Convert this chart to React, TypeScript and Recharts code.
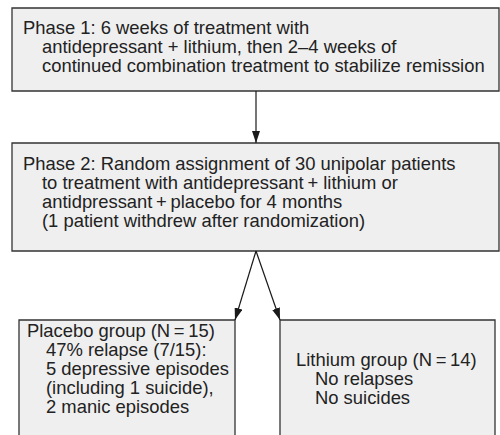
import React from 'react';
import { ComposedChart, XAxis, YAxis, ReferenceArea, ReferenceLine } from 'recharts';

// ---- content (text of each box) ----
const phase1Lines = [
  'Phase 1: 6 weeks of treatment with',
  'antidepressant + lithium, then 2\u20134 weeks of',
  'continued combination treatment to stabilize remission',
];
const phase2Lines = [
  'Phase 2: Random assignment of 30 unipolar patients',
  'to treatment with antidepressant\u2009+ lithium or',
  'antidpressant\u2009+\u2009placebo for 4 months',
  '(1 patient withdrew after randomization)',
];
const placeboLines = [
  'Placebo group (N\u2009=\u200915)',
  '47% relapse (7/15):',
  '5 depressive episodes',
  '(including 1 suicide),',
  '2 manic episodes',
];
const lithiumLines = [
  'Lithium group (N\u2009=\u200914)',
  'No relapses',
  'No suicides',
];

// ---- layout (diagram units = pixels of a 500 x 435 canvas) ----
const boxNames = ['phase1', 'phase2', 'placebo', 'lithium'];
const boxLeft = [12, 12, 19, 280];
const boxRight = [499, 499, 235, 495];
const boxTop = [8, 143, 320, 320];
const boxBottom = [91, 251, 445, 445];
const boxTexts = [phase1Lines, phase2Lines, placeboLines, lithiumLines];
const textPad = [11, 11, 8, 16];
const firstBaseline = [26, 27, 17, 46];

// arrows: from -> to
const arrowFromX = [256, 256, 256];
const arrowFromY = [91, 251, 251];
const arrowToX = [256, 235, 280];
const arrowToY = [143, 320, 320];

const FONT = '"Liberation Sans", Arial, Helvetica, sans-serif';
const FONT_SIZE = 18.4;
const LINE_H = 19;
const INDENT = 19;
const STROKE = '#333333';
const FILL = '#efefef';
const TEXT = '#222222';

const BoxText = (props: any) => {
  const { viewBox, lines, pad, base } = props;
  const x = viewBox?.x ?? 0;
  const y = viewBox?.y ?? 0;
  return (
    <text fontFamily={FONT} fontSize={FONT_SIZE} fill={TEXT}>
      {lines.map((l: string, i: number) => (
        <tspan key={i} x={x + pad + (i > 0 ? INDENT : 0)} y={y + base + i * LINE_H}>
          {l}
        </tspan>
      ))}
    </text>
  );
};

export default function App() {
  return (
    <div style={{ position: 'absolute', left: 0, top: 0, width: 500, height: 435, background: '#fff' }}>
      <ComposedChart width={500} height={435} data={[]} margin={{ top: 0, right: 0, bottom: 0, left: 0 }}>
        <defs>
          <marker
            id="arrowHead"
            viewBox="0 0 12 8"
            refX="12"
            refY="4"
            markerWidth="12"
            markerHeight="8"
            markerUnits="userSpaceOnUse"
            orient="auto"
          >
            <path d="M0,0 L12,4 L0,8 z" fill="#1a1a1a" />
          </marker>
        </defs>
        <XAxis type="number" dataKey="x" domain={[0, 500]} hide allowDataOverflow />
        <YAxis type="number" dataKey="y" domain={[0, 435]} reversed hide allowDataOverflow />
        {boxNames.map((name, i) => (
          <ReferenceArea
            key={name}
            x1={boxLeft[i]}
            x2={boxRight[i]}
            y1={boxTop[i]}
            y2={boxBottom[i]}
            ifOverflow="hidden"
            fill={FILL}
            fillOpacity={1}
            stroke={STROKE}
            strokeWidth={1.3}
            label={<BoxText lines={boxTexts[i]} pad={textPad[i]} base={firstBaseline[i]} />}
          />
        ))}
        {arrowFromX.map((fx, i) => (
          <ReferenceLine
            key={'a' + i}
            segment={[
              { x: fx, y: arrowFromY[i] },
              { x: arrowToX[i], y: arrowToY[i] },
            ]}
            stroke="#1a1a1a"
            strokeWidth={1.2}
            markerEnd="url(#arrowHead)"
          />
        ))}
      </ComposedChart>
    </div>
  );
}
